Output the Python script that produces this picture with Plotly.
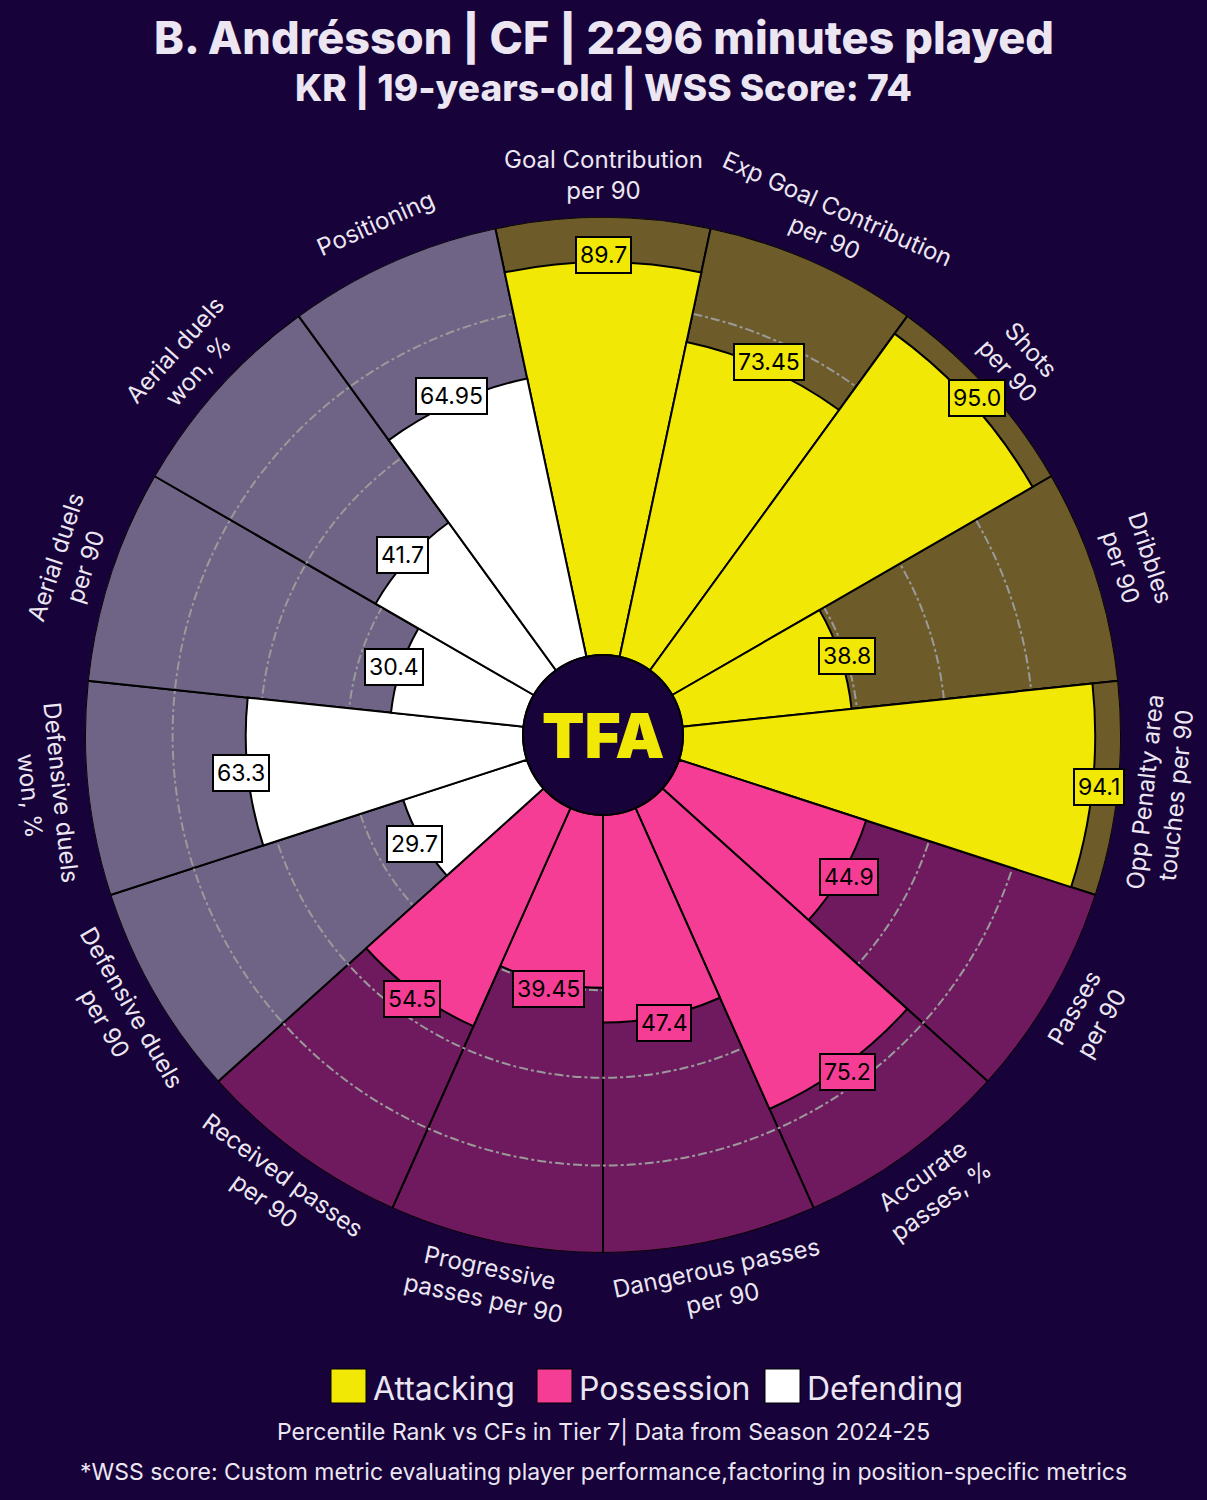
import math
import plotly.graph_objects as go

# ---------------- data ----------------
categories = [
    "Goal Contribution per 90", "Exp Goal Contribution per 90", "Shots per 90",
    "Dribbles per 90", "Opp Penalty area touches per 90", "Passes per 90",
    "Accurate passes, %", "Dangerous passes per 90", "Progressive passes per 90",
    "Received passes per 90", "Defensive duels per 90", "Defensive duels won, %",
    "Aerial duels per 90", "Aerial duels won, %", "Positioning",
]
label_text = [
    "Goal Contribution<br>per 90", "Exp Goal Contribution<br>per 90", "Shots<br>per 90",
    "Dribbles<br>per 90", "Opp Penalty area<br>touches per 90", "Passes<br>per 90",
    "Accurate<br>passes, %", "Dangerous passes<br>per 90", "Progressive<br>passes per 90",
    "Received passes<br>per 90", "Defensive duels<br>per 90", "Defensive duels<br>won, %",
    "Aerial duels<br>per 90", "Aerial duels<br>won, %", "Positioning",
]
values = [89.7, 73.45, 95.0, 38.8, 94.1, 44.9, 75.2, 47.4, 39.45, 54.5,
          29.7, 63.3, 30.4, 41.7, 64.95]
value_text = ["89.7", "73.45", "95.0", "38.8", "94.1", "44.9", "75.2", "47.4",
              "39.45", "54.5", "29.7", "63.3", "30.4", "41.7", "64.95"]
groups = ["Attacking"] * 5 + ["Possession"] * 5 + ["Defending"] * 5
group_names = ["Attacking", "Possession", "Defending"]
grid_ticks = [20, 40, 60, 80]

# ---------------- style ----------------
BG = "#17023a"
TXT = "#ece6f2"
col = {"Attacking": "#f2e806", "Possession": "#f53d96", "Defending": "#ffffff"}
col_bg = {"Attacking": "#6e5b2a", "Possession": "#6f1a5f", "Defending": "#6f6386"}

W, H = 1207, 1500
CX, CY = 603, 735          # centre in px (from top-left)
R = 518                    # outer radius in px
HOLE = 80                  # hole radius in px
RMAX = 100.0
FONT = "Inter"

dom_x = [(CX - R) / W, (CX + R) / W]
dom_y = [1 - (CY + R) / H, 1 - (CY - R) / H]


def r_px(v):
    return HOLE + (R - HOLE) * v / RMAX


def to_paper(rp, ang):
    a = math.radians(ang)
    return (CX + rp * math.sin(a)) / W, 1 - (CY - rp * math.cos(a)) / H


n = len(categories)
step = 360.0 / n

fig = go.Figure()

# background slices (bottom polar)
fig.add_trace(go.Barpolar(
    r=[RMAX] * n, theta=categories,
    marker=dict(color=[col_bg[g] for g in groups], line=dict(color="#000000", width=2)),
    subplot="polar", showlegend=False, hoverinfo="skip",
))
# value slices (top polar)
fig.add_trace(go.Barpolar(
    r=values, theta=categories,
    marker=dict(color=[col[g] for g in groups], line=dict(color="#000000", width=2)),
    subplot="polar2", showlegend=False,
))

common_ang = dict(direction="clockwise", rotation=90, showgrid=False, showline=False,
                  showticklabels=False, ticks="", categoryorder="array",
                  categoryarray=categories)
fig.update_layout(
    width=W, height=H,
    margin=dict(l=0, r=0, t=0, b=0),
    paper_bgcolor=BG, plot_bgcolor=BG,
    polar=dict(
        domain=dict(x=dom_x, y=dom_y), hole=HOLE / R, bgcolor=BG, bargap=0,
        radialaxis=dict(range=[0, RMAX], showgrid=False, showline=False,
                        showticklabels=False, ticks=""),
        angularaxis=common_ang,
    ),
    polar2=dict(
        domain=dict(x=dom_x, y=dom_y), hole=HOLE / R, bgcolor="rgba(0,0,0,0)", bargap=0,
        radialaxis=dict(range=[0, RMAX], tickvals=grid_ticks, showgrid=True,
                        gridcolor="#9a9a9a", griddash="dashdot", gridwidth=1.5,
                        showline=False, showticklabels=False, ticks=""),
        angularaxis=common_ang,
    ),
)

ann = []
# value labels
for i, v in enumerate(values):
    ang = i * step
    x, y = to_paper(r_px(v) + 7, ang)
    ann.append(dict(x=x, y=y, xref="paper", yref="paper", text=value_text[i],
                    showarrow=False, font=dict(family=FONT, size=23, color="#000000"),
                    bgcolor=col[groups[i]], bordercolor="#000000", borderwidth=2,
                    borderpad=3, xanchor="center", yanchor="middle"))

# category labels
for i, t in enumerate(label_text):
    ang = i * step
    if 90 < ang < 270:
        rot = ang - 180
    elif ang >= 270:
        rot = ang - 360
    else:
        rot = ang
    x, y = to_paper(R + 42, ang)
    ann.append(dict(x=x, y=y, xref="paper", yref="paper", text=t, showarrow=False,
                    textangle=rot, font=dict(family=FONT, size=24, color=TXT),
                    xanchor="center", yanchor="middle", align="center"))

# centre logo
ann.append(dict(x=CX / W, y=1 - CY / H, xref="paper", yref="paper", text="TFA",
                showarrow=False, font=dict(family=FONT, size=62, color=col["Attacking"],
                                           weight=900),
                xanchor="center", yanchor="middle"))

# titles
ann.append(dict(x=0.5, y=1 - 38 / H, xref="paper", yref="paper",
                text="B. Andrésson | CF | 2296 minutes played", showarrow=False,
                font=dict(family=FONT, size=45, color=TXT, weight=800),
                xanchor="center", yanchor="middle"))
ann.append(dict(x=0.5, y=1 - 88 / H, xref="paper", yref="paper",
                text="KR | 19-years-old | WSS Score: 74", showarrow=False,
                font=dict(family=FONT, size=37, color=TXT, weight=800),
                xanchor="center", yanchor="middle"))

# footer
ann.append(dict(x=0.5, y=1 - 1432 / H, xref="paper", yref="paper",
                text="Percentile Rank vs CFs in Tier 7| Data from Season 2024-25",
                showarrow=False, font=dict(family=FONT, size=23, color=TXT),
                xanchor="center", yanchor="middle"))
ann.append(dict(x=0.5, y=1 - 1472 / H, xref="paper", yref="paper",
                text="*WSS score: Custom metric evaluating player performance,factoring in position-specific metrics",
                showarrow=False, font=dict(family=FONT, size=23, color=TXT),
                xanchor="center", yanchor="middle"))

shapes = []
# legend (manual)
leg_x = [331, 537, 765]
for gx, g in zip(leg_x, group_names):
    shapes.append(dict(type="rect", xref="paper", yref="paper",
                       x0=gx / W, x1=(gx + 35) / W, y0=1 - 1403 / H, y1=1 - 1369 / H,
                       fillcolor=col[g], line=dict(color="#000000", width=1)))
    ann.append(dict(x=(gx + 40) / W, y=1 - 1388 / H, xref="paper", yref="paper",
                    text=g, showarrow=False, font=dict(family=FONT, size=32, color=TXT),
                    xanchor="left", yanchor="middle"))

# centre circle
shapes.append(dict(type="circle", xref="paper", yref="paper",
                   x0=(CX - HOLE) / W, x1=(CX + HOLE) / W,
                   y0=1 - (CY + HOLE) / H, y1=1 - (CY - HOLE) / H,
                   fillcolor=BG, line=dict(color="#000000", width=2), layer="above"))

fig.update_layout(annotations=ann, shapes=shapes)
fig.write_html("out.html")
